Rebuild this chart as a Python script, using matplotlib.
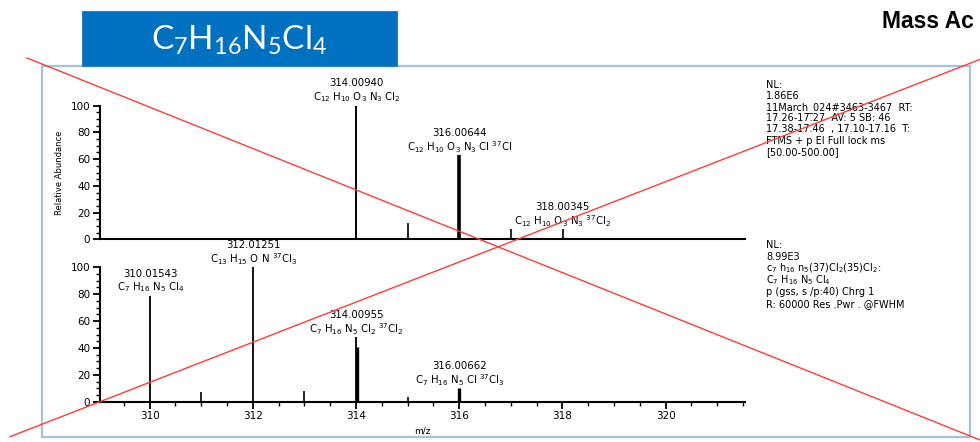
import matplotlib
matplotlib.use("Agg")
import matplotlib.pyplot as plt
from matplotlib.lines import Line2D
from matplotlib.patches import Rectangle
from matplotlib.ticker import MultipleLocator

plt.rcParams['font.family'] = ['DejaVu Sans']
plt.rcParams['mathtext.fontset'] = 'dejavusans'
plt.rcParams['mathtext.rm'] = 'Lato'
plt.rcParams['mathtext.it'] = 'Lato:italic'
plt.rcParams['mathtext.bf'] = 'Lato:bold'

# ---- measured spectrum (top) ----
top_mz = [314.00940, 315.0, 316.00644, 317.0, 318.00345]
top_int = [100, 12, 63, 7.5, 8]
top_labeled = [0, 2, 4]
top_formulas = [
    r"C$_{12}$ H$_{10}$ O$_3$ N$_3$ Cl$_2$",
    r"C$_{12}$ H$_{10}$ O$_3$ N$_3$ Cl $^{37}$Cl",
    r"C$_{12}$ H$_{10}$ O$_3$ N$_3$ $^{37}$Cl$_2$",
]

# ---- simulated isotope pattern (bottom) ----
bottom_mz = [310.01543, 311.0, 312.01251, 313.0, 314.00955, 314.03, 315.0, 316.00662]
bottom_int = [79, 7, 100, 8, 48, 41, 3.5, 10]
bottom_labeled = [0, 2, 4, 7]
bottom_formulas = [
    r"C$_7$ H$_{16}$ N$_5$ Cl$_4$",
    r"C$_{13}$ H$_{15}$ O N $^{37}$Cl$_3$",
    r"C$_7$ H$_{16}$ N$_5$ Cl$_2$ $^{37}$Cl$_2$",
    r"C$_7$ H$_{16}$ N$_5$ Cl $^{37}$Cl$_3$",
]

x_range = (309.04, 321.54)
x_major = [310, 312, 314, 316, 318, 320]
y_major = [0, 20, 40, 60, 80, 100]

top_info = ["NL:", "1.86E6", "11March_024#3463-3467  RT:",
            "17.26-17.27  AV: 5 SB: 46", "17.38-17.46  , 17.10-17.16  T:",
            "FTMS + p EI Full lock ms", "[50.00-500.00]"]
bottom_info = ["NL:", "8.99E3", r"c$_7$ h$_{16}$ n$_5$(37)Cl$_2$(35)Cl$_2$:",
               r"C$_7$ H$_{16}$ N$_5$ Cl$_4$", "p (gss, s /p:40) Chrg 1",
               "R: 60000 Res .Pwr . @FWHM"]

title_text = r"C$_7$H$_{16}$N$_5$Cl$_4$"
heading_text = "Mass Ac"

W, H = 980, 442
fig = plt.figure(figsize=(W / 100, H / 100), dpi=100)


def fx(px):
    return px / W


def fy(py):
    return 1 - py / H


# slide frame and title box
fig.add_artist(Rectangle((fx(42), fy(437)), fx(970) - fx(42), fy(66) - fy(437),
                         transform=fig.transFigure, fill=False,
                         edgecolor='#A9C1E0', lw=1.6, zorder=1))
fig.add_artist(Rectangle((fx(82), fy(66)), fx(397) - fx(82), fy(11) - fy(66),
                         transform=fig.transFigure, facecolor='#0070C0',
                         edgecolor='#2F7FC8', lw=0.8, zorder=2))
fig.text(fx(239), fy(40), title_text, color='white', fontsize=24,
         family='Lato', math_fontfamily='custom', ha='center', va='center',
         zorder=3)
fig.text(fx(882), fy(21), heading_text, fontsize=16.5, fontweight='bold',
         family='Liberation Sans', ha='left', va='center')


def make_axes(bottom_px, top_px):
    ax = fig.add_axes([fx(100), fy(bottom_px), fx(745) - fx(100),
                       fy(top_px) - fy(bottom_px)])
    ax.set_xlim(*x_range)
    ax.set_ylim(0, 100)
    ax.patch.set_alpha(0)
    for s in ('top', 'right'):
        ax.spines[s].set_visible(False)
    for s in ('left', 'bottom'):
        ax.spines[s].set_linewidth(1.5)
    ax.set_yticks(y_major)
    ax.yaxis.set_minor_locator(MultipleLocator(5))
    ax.tick_params(axis='y', which='major', length=5, width=1.3, pad=2,
                   labelsize=7.5)
    ax.tick_params(axis='y', which='minor', length=3, width=1.0)
    return ax


def draw_peaks(ax, mz, inten, labeled, formulas, widths):
    ax.vlines(mz, 0, inten, colors='black', linewidths=widths, zorder=3)
    for idx, formula in zip(labeled, formulas):
        m, h = mz[idx], inten[idx]
        ax.annotate(f"{m:.5f}", xy=(m, h), xytext=(0, 22),
                    textcoords='offset pixels', ha='center', va='center',
                    fontsize=7.3, annotation_clip=False)
        ax.annotate(formula, xy=(m, h), xytext=(0, 8),
                    textcoords='offset pixels', ha='center', va='center',
                    fontsize=7.3, annotation_clip=False)


ax1 = make_axes(239.5, 105.5)
ax1.tick_params(axis='x', which='both', length=0, labelbottom=False)
ax1.set_ylabel("Relative Abundance", fontsize=6, labelpad=5)
draw_peaks(ax1, top_mz, top_int, top_labeled, top_formulas,
           [1.4, 1.2, 2.6, 1.2, 1.2])

ax2 = make_axes(401.7, 267.3)
ax2.set_xticks(x_major)
ax2.xaxis.set_minor_locator(MultipleLocator(0.5))
ax2.tick_params(axis='x', which='major', length=5, width=1.3, pad=2,
                labelsize=7.5)
ax2.tick_params(axis='x', which='minor', length=3, width=1.0)
ax2.set_xlabel("m/z", fontsize=6.5, labelpad=4)
draw_peaks(ax2, bottom_mz, bottom_int, bottom_labeled, bottom_formulas,
           [1.3, 1.2, 1.3, 1.2, 1.3, 2.4, 1.2, 2.4])

# instrument annotations on the right
for i, line in enumerate(top_info):
    fig.text(fx(766), fy(85 + 11.1 * i), line, fontsize=7,
             ha='left', va='center')
for i, line in enumerate(bottom_info):
    fig.text(fx(766), fy(245 + 11.8 * i), line, fontsize=7,
             ha='left', va='center')

# diagonal cross over the slide
fig.add_artist(Line2D([fx(27), fx(980)], [fy(58), fy(440)],
                      transform=fig.transFigure, color='#FF3B3B', lw=1.0,
                      zorder=10))
fig.add_artist(Line2D([fx(10), fx(980)], [fy(436.7), fy(59.4)],
                      transform=fig.transFigure, color='#FF3B3B', lw=1.0,
                      zorder=10))

fig.savefig("out.png", dpi=100)
